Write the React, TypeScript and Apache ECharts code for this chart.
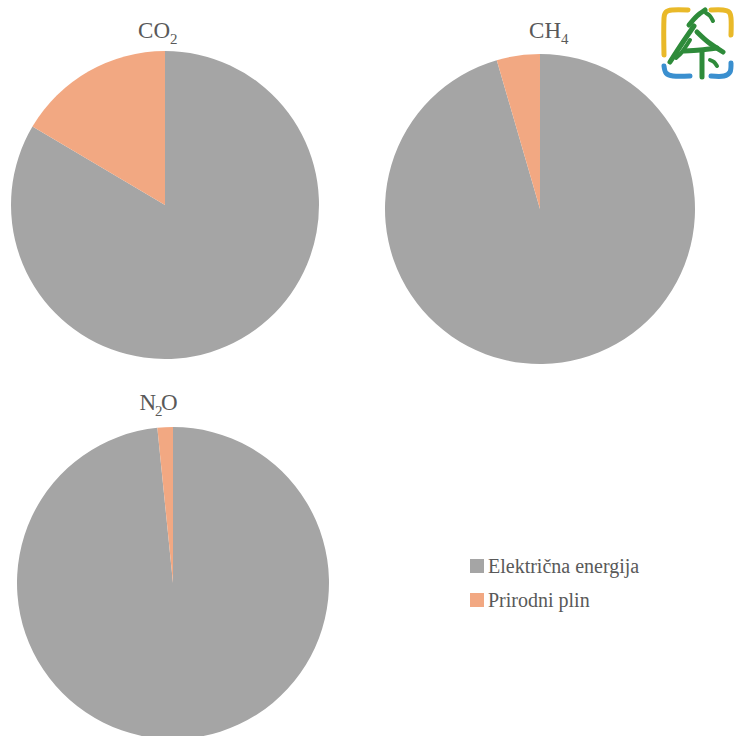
import React, { useEffect, useRef } from "react";
import * as echarts from "echarts";

const categories = ["Električna energija", "Prirodni plin"];
const co2Values = [83.5, 16.5];
const ch4Values = [95.5, 4.5];
const n2oValues = [98.4, 1.6];
const colors = ["#A5A5A5", "#F2A882"];

const FONT = "Liberation Serif";
const TXT = "#595959";

function txt(text: string, x: number, y: number, size: number, align: string) {
  return {
    type: "text",
    x,
    y,
    silent: true,
    style: {
      text,
      fill: TXT,
      fontFamily: FONT,
      fontSize: size,
      fontWeight: "normal",
      align,
      verticalAlign: "middle",
    },
  };
}

function pie(name: string, values: number[], cx: number, cy: number, r: number) {
  return {
    type: "pie",
    name,
    center: [cx, cy],
    radius: r,
    startAngle: 90,
    clockwise: true,
    label: { show: false },
    labelLine: { show: false },
    itemStyle: { borderWidth: 0 },
    emphasis: { disabled: true },
    data: categories.map((c, i) => ({ name: c, value: values[i] })),
  };
}

const G = "#2E8B3A";
function stroke(points: number[][], w: number, color = G) {
  return {
    type: "polyline",
    silent: true,
    shape: { points, smooth: 0.3 },
    style: { stroke: color, lineWidth: w, fill: "none", lineCap: "round" },
  };
}

export default function App() {
  const ref = useRef<HTMLDivElement>(null);
  useEffect(() => {
    if (!ref.current) return;
    const chart = echarts.init(ref.current, null, { renderer: "svg" });
    chart.setOption({
      animation: false,
      color: colors,
      backgroundColor: "#ffffff",
      textStyle: { fontFamily: FONT },
      legend: {
        orient: "vertical",
        left: 465,
        top: 551,
        itemWidth: 14,
        itemHeight: 14,
        itemGap: 14,
        icon: "rect",
        textStyle: { fontFamily: FONT, fontSize: 20, lineHeight: 20, color: TXT, padding: [0, 0, 0, -1] },
        data: categories,
      },
      series: [
        pie("CO2", co2Values, 165, 205, 154),
        pie("CH4", ch4Values, 540, 209, 155),
        pie("N2O", n2oValues, 173, 583, 156),
      ],
      graphic: [
        txt("CO", 170, 30, 23, "right"),
        txt("2", 170, 39, 15, "left"),
        txt("CH", 561, 30, 23, "right"),
        txt("4", 561, 39, 15, "left"),
        txt("N", 156, 402, 23, "right"),
        txt("2", 155, 411, 15, "left"),
        txt("O", 161, 402, 23, "left"),
        // logo frame
        stroke([[664, 55], [664, 18], [666, 12], [672, 10], [688, 10]], 5, "#E9B929"),
        stroke([[711, 10], [723, 10], [729, 12], [731, 18], [731, 35]], 5, "#E9B929"),
        stroke([[664, 66], [666, 73], [673, 76], [690, 76]], 5, "#3A8FCF"),
        stroke([[711, 76], [724, 76], [730, 72], [731, 63]], 5, "#3A8FCF"),
        // tree
        stroke([[689, 25], [697, 16], [705, 10]], 5),
        stroke([[706, 13], [710, 16], [713, 21]], 4),
        stroke([[694, 26], [683, 42], [670, 62]], 5),
        stroke([[697, 32], [708, 42], [723, 52]], 5),
        stroke([[690, 40], [682, 52], [676, 58]], 4),
        stroke([[684, 51], [700, 50], [717, 48]], 5),
        stroke([[702, 52], [702, 64], [702, 77]], 5),
        stroke([[710, 60], [714, 62], [717, 66]], 4),
      ],
    });
    return () => chart.dispose();
  }, []);
  return (
    <div
      ref={ref}
      style={{ position: "fixed", left: 0, top: 0, width: 734, height: 736 }}
    />
  );
}
